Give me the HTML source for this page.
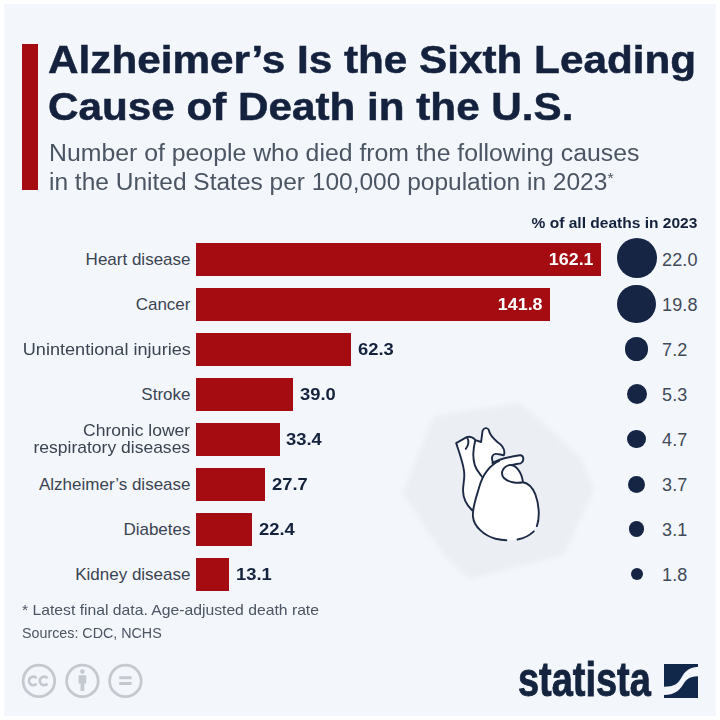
<!DOCTYPE html>
<html><head><meta charset="utf-8">
<style>
html,body{margin:0;padding:0;}
body{width:720px;height:720px;background:#fff;font-family:"Liberation Sans",sans-serif;position:relative;overflow:hidden;}
#card{position:absolute;left:4px;top:4px;width:712px;height:712px;background:#f3f6fb;}
.abs{position:absolute;white-space:nowrap;transform-origin:0 0;}
.r{transform-origin:100% 0;text-align:right;}
#redbar{position:absolute;left:22px;top:44px;width:16px;height:146px;background:#a50c12;}
.title{font-weight:bold;font-size:38px;color:#14223d;line-height:48px;left:47.5px;-webkit-text-stroke:0.5px #14223d;}
.sub{font-size:23px;color:#4b5563;line-height:28px;left:48.5px;}
.bar{position:absolute;left:196px;height:32.5px;background:#a50c12;}
.lab{font-size:17px;color:#3b4452;line-height:20px;right:529.5px;}
.val{font-weight:bold;font-size:17px;color:#14223d;line-height:20px;transform:scaleX(1.08);}
.valw{color:#fff;transform:scaleX(1.05);}
.dot{position:absolute;border-radius:50%;background:#152543;}
.pct{font-size:18px;color:#414a58;line-height:20px;left:662px;letter-spacing:0.15px;}
.foot{font-size:14.5px;color:#4b5563;left:22.5px;line-height:20px;transform:scaleX(1.1);}
</style></head><body>
<div id="card"></div>
<div id="redbar"></div>
<div class="abs title" style="top:36.3px;transform:scaleX(1.112)">Alzheimer’s Is the Sixth Leading</div>
<div class="abs title" style="top:83.3px;transform:scaleX(1.111)">Cause of Death in the U.S.</div>
<div class="abs sub" style="top:139.3px;transform:scaleX(1.079)">Number of people who died from the following causes</div>
<div class="abs sub" style="top:168px;transform:scaleX(1.065)">in the United States per 100,000 population in 2023<span style="font-size:15px;position:relative;top:-7px">*</span></div>

<div class="abs r" style="right:23px;top:213.5px;font-weight:bold;font-size:14px;color:#14223d;line-height:18px;transform:scaleX(1.11)">% of all deaths in 2023</div>


<svg class="abs" id="heartsvg" style="left:0;top:0" width="720" height="720" viewBox="0 0 720 720">
<defs><filter id="bl" x="-10%" y="-10%" width="120%" height="120%"><feGaussianBlur stdDeviation="2.5"/></filter></defs>
<path d="M435 418L520 405L580 460L592 490L562 553L470 577L445 553L405 493Z" fill="#ebeff4" stroke="#ebeff4" stroke-width="4" stroke-linejoin="round" filter="url(#bl)"/>
<g transform="translate(445 420) scale(0.1805)" fill="#fff" stroke="#1d2a45" stroke-width="10.5" stroke-linecap="round" stroke-linejoin="round">
<!-- vena cava -->
<path d="M150 500C120 470 100 430 100 390C100 350 112 320 105 280C98 230 75 170 62 128L120 95C140 88 160 98 168 112L200 122L208 60C215 42 236 40 243 56C246 82 265 100 290 122C320 142 336 165 326 195C300 192 272 176 262 202C258 216 262 230 270 240L330 260L250 420Z"/>
<path d="M122 97C136 115 130 142 115 160" fill="none"/>
<path d="M168 112C158 150 150 200 165 250C175 282 195 300 206 316" fill="none"/>
<!-- pulmonary artery -->
<path d="M262 238C300 216 370 202 415 195C436 194 442 226 420 240C390 246 350 250 322 264Z"/>
<!-- body fill -->
<path d="M300 226C250 250 210 300 190 370C170 440 150 490 155 535C160 590 215 640 280 658C320 668 380 668 420 658C470 645 505 600 515 560C526 510 520 455 500 410C485 375 460 350 432 345L380 250Z" stroke="none"/>
<path d="M300 226C250 250 210 300 190 370C170 440 150 490 155 535C160 590 215 640 280 658C300 663 320 666 340 666" fill="none"/>
<path d="M402 662C432 657 468 640 492 617" fill="none"/>
<path d="M509 588C526 540 522 470 500 410C485 375 460 350 432 345" fill="none"/>
<!-- atrium -->
<path d="M432 345C400 352 350 346 325 320C305 295 320 260 355 250C392 244 426 290 432 345Z"/>
</g>
</svg>
<!-- bars -->
<div class="bar" style="top:243px;width:404.5px"></div>
<div class="bar" style="top:288px;width:353.5px"></div>
<div class="bar" style="top:333px;width:155px"></div>
<div class="bar" style="top:378px;width:97px"></div>
<div class="bar" style="top:423px;width:83.5px"></div>
<div class="bar" style="top:468px;width:69px"></div>
<div class="bar" style="top:513px;width:56px"></div>
<div class="bar" style="top:558px;width:33px"></div>

<!-- labels -->
<div class="abs lab r" style="top:250px">Heart disease</div>
<div class="abs lab r" style="top:295px">Cancer</div>
<div class="abs lab r" style="top:340px;transform:scaleX(1.065)">Unintentional injuries</div>
<div class="abs lab r" style="top:385px">Stroke</div>
<div class="abs lab r" style="top:421.5px;line-height:17.5px;transform:scaleX(1.03)">Chronic lower<br>respiratory diseases</div>
<div class="abs lab r" style="top:475px">Alzheimer’s disease</div>
<div class="abs lab r" style="top:520px">Diabetes</div>
<div class="abs lab r" style="top:565px">Kidney disease</div>

<!-- values -->
<div class="abs val valw r" style="right:126.5px;top:250px">162.1</div>
<div class="abs val valw r" style="right:177px;top:295px">141.8</div>
<div class="abs val" style="left:357.5px;top:340px">62.3</div>
<div class="abs val" style="left:299.5px;top:385px">39.0</div>
<div class="abs val" style="left:285.5px;top:430px">33.4</div>
<div class="abs val" style="left:271.5px;top:475px">27.7</div>
<div class="abs val" style="left:258.5px;top:520px">22.4</div>
<div class="abs val" style="left:235.5px;top:565px">13.1</div>

<!-- dots -->
<div class="dot" style="left:616.6px;top:238.3px;width:40px;height:40px"></div>
<div class="dot" style="left:617.35px;top:284.75px;width:38.5px;height:38.5px"></div>
<div class="dot" style="left:624.85px;top:337.25px;width:23.5px;height:23.5px"></div>
<div class="dot" style="left:626.6px;top:384px;width:20px;height:20px"></div>
<div class="dot" style="left:627.35px;top:429.75px;width:18.5px;height:18.5px"></div>
<div class="dot" style="left:628.1px;top:475.5px;width:17px;height:17px"></div>
<div class="dot" style="left:628.85px;top:521.25px;width:15.5px;height:15.5px"></div>
<div class="dot" style="left:630.6px;top:568px;width:12px;height:12px"></div>

<div class="abs pct" style="top:249.5px">22.0</div>
<div class="abs pct" style="top:294.5px">19.8</div>
<div class="abs pct" style="top:339.5px">7.2</div>
<div class="abs pct" style="top:384.5px">5.3</div>
<div class="abs pct" style="top:429.5px">4.7</div>
<div class="abs pct" style="top:474.5px">3.7</div>
<div class="abs pct" style="top:519.5px">3.1</div>
<div class="abs pct" style="top:564.5px">1.8</div>

<div class="abs foot" style="top:599.5px;left:21.5px;transform:scaleX(1.0835)">* Latest final data. Age-adjusted death rate</div>
<div class="abs foot" style="top:622.5px;left:21.5px;transform:scaleX(0.985)">Sources: CDC, NCHS</div>


<svg class="abs" style="left:0;top:0" width="720" height="720" viewBox="0 0 720 720">
<g fill="none" stroke="#c4c9d0" stroke-width="2.8">
<circle cx="38.9" cy="680.9" r="15.8"/>
<circle cx="82.4" cy="680.9" r="15.8"/>
<circle cx="125.4" cy="680.9" r="15.8"/>
<path d="M36.6 678.2a4.3 4.3 0 1 0 0 5.4M47.4 678.2a4.3 4.3 0 1 0 0 5.4" stroke-width="2.6"/>
</g>
<g fill="#c4c9d0">
<circle cx="82.4" cy="671.6" r="2.3"/>
<path d="M78.6 675.2h7.6v8.2h-1.9v7.6h-3.8v-7.6h-1.9z"/>
<rect x="119.2" y="676.2" width="12.4" height="3"/>
<rect x="119.2" y="682" width="12.4" height="3"/>
</g>
</svg>

<div class="abs" id="stat" style="left:517.5px;top:655px;font-weight:bold;font-size:48px;line-height:50px;color:#14243f;transform:scaleX(0.79);-webkit-text-stroke:0.9px #14243f;">statista</div>
<svg class="abs" style="left:663.7px;top:664px" width="34.2" height="34.4" viewBox="0 0 34 34" preserveAspectRatio="none">
<path d="M0 0H34V2.8C24 3.5 20.5 8 17 14C13.5 20 10 22.2 0 22.4Z" fill="#12284a"/>
<path d="M34 12.2V34H0V30.6C10.5 30.4 15 26.5 18.5 21C22 15.5 24.5 12.6 34 12.2Z" fill="#12284a"/>
</svg>
</body></html>
